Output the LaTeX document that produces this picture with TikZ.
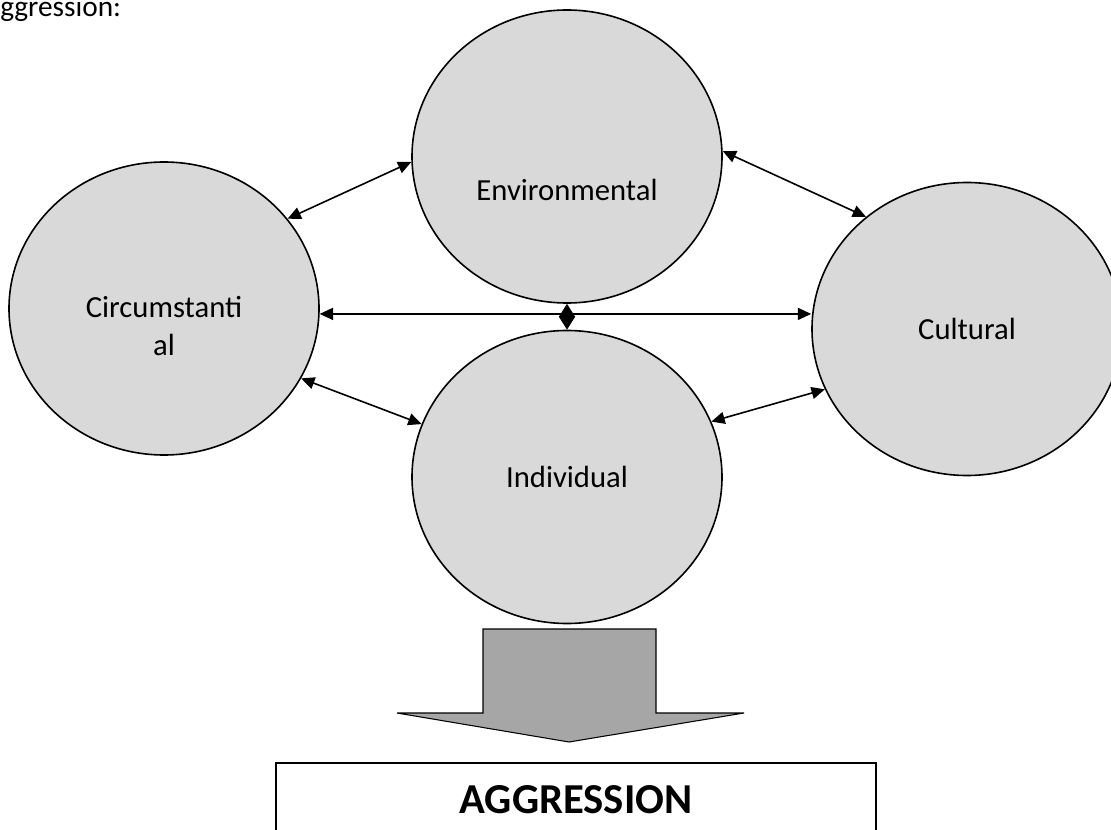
\documentclass[tikz,border=0pt]{standalone}
\usepackage{fontspec}
\setmainfont{Carlito}
\usetikzlibrary{arrows.meta,shapes.geometric}

\definecolor{bubblegray}{HTML}{D9D9D9}
\definecolor{arrowgray}{HTML}{A6A6A6}

\begin{document}
\begin{tikzpicture}[x=0.75pt,y=-0.75pt,
    font=\fontsize{23}{28.5}\selectfont,
    bubble/.style={ellipse, draw, line width=1.2pt, fill=bubblegray, minimum width=232.5pt, minimum height=219.75pt, inner sep=0pt},
    link/.style={{Triangle[length=10pt,width=9pt]}-{Triangle[length=10pt,width=9pt]}, line width=1.2pt},
    joint/.style={{Triangle[length=9.8pt,width=12pt]}-{Triangle[length=9.8pt,width=12pt]}, line width=1.2pt}]
    \useasboundingbox (0,0) rectangle (1111,830);

    % draw title text
    \node[anchor=base west, inner sep=0pt, font=\fontsize{22}{26}\selectfont] (title) at (0,17) {ggression:};

    % draw bubbles
    \node[bubble, label={[yshift=-25pt]center:Environmental}] (env) at (567,156.5) {};
    \node[bubble, label={[yshift=-13pt, align=center]center:{Circumstanti\\al}}] (circ) at (164,308.5) {};
    \node[bubble] (cult) at (967,329) {Cultural};
    \node[bubble] (ind) at (567,477) {Individual};

    % draw links between bubbles
    \draw[link] (circ.36) -- (env.182);
    \draw[link] (env.2) -- (cult.132);
    \draw[link] (circ.-27) -- (ind.160);
    \draw[link] (ind.21) -- (cult.203);
    \draw[link] (circ.-2) -- (circ.-2 -| cult.west);
    \draw[joint] (env.south) -- (ind.north);

    % draw block arrow
    \draw[fill=arrowgray, line width=0.8pt] (483,629) -- (656,629) -- (656,713) -- (744,713) -- (569,742) -- (397,713) -- (483,713) -- cycle;

    % draw result box
    \node[draw, line width=1.2pt, minimum width=450pt, minimum height=55.5pt, font=\fontsize{32}{36}\selectfont\bfseries] (aggr) at (576,800) {AGGRESSION};
\end{tikzpicture}
\end{document}
